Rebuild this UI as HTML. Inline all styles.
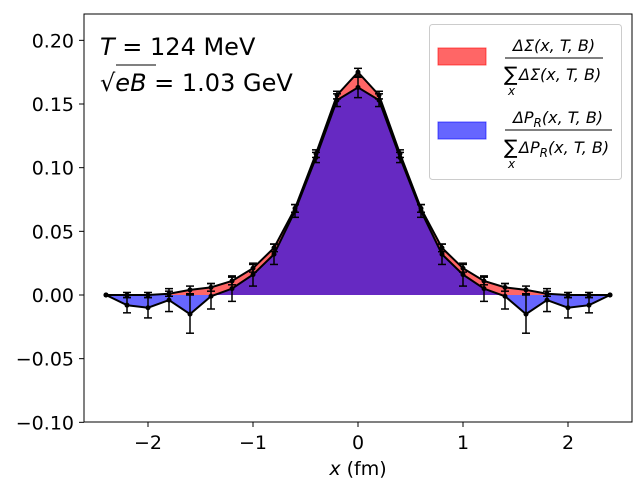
<!DOCTYPE html>
<html><head><meta charset="utf-8"><style>body{margin:0;background:#fff}svg{display:block;font-family:"DejaVu Sans","Liberation Sans",sans-serif}</style></head>
<body>
<svg id="chart" width="640" height="480" xmlns="http://www.w3.org/2000/svg">
<rect x="84" y="14" width="548" height="408" fill="#fff" stroke="#000" stroke-width="1"/>
<g id="fills"></g><g id="lines"></g><g id="ticks"></g>
<text x="358" y="475" font-size="19" text-anchor="middle"><tspan font-style="italic">x</tspan> (fm)</text>
<text x="100" y="55" font-size="24"><tspan font-style="italic">T</tspan> = 124 MeV</text>
<text x="100" y="91" font-size="24">√<tspan font-style="italic">eB</tspan> = 1.03 GeV</text>
<line x1="116" y1="65" x2="156" y2="65" stroke="#000" stroke-width="1"/>
<g>
<rect x="429.5" y="24.5" width="192" height="155" rx="3" fill="#fff" fill-opacity="0.8" stroke="#ccc"/>
<rect x="438" y="48" width="48" height="17" fill="rgba(255,0,0,0.6)" stroke="rgba(255,0,0,0.6)"/>
<text x="554" y="51" font-size="16" text-anchor="middle" font-style="italic">ΔΣ(x, T, B)</text>
<line x1="505" y1="58" x2="603" y2="58" stroke="#000"/>
<text x="504" y="81" font-size="20">∑</text>
<text x="519" y="80" font-size="16" font-style="italic">ΔΣ(x, T, B)</text>
<text x="508" y="95" font-size="12" font-style="italic">x</text>
<rect x="438" y="122" width="48" height="17" fill="rgba(0,0,255,0.6)" stroke="rgba(0,0,255,0.6)"/>
<text x="558" y="123" font-size="16" text-anchor="middle" font-style="italic">ΔP<tspan font-size="12" dy="4">R</tspan><tspan dy="-4">(x, T, B)</tspan></text>
<line x1="505" y1="130" x2="612" y2="130" stroke="#000"/>
<text x="504" y="154" font-size="20">∑</text>
<text x="519" y="153" font-size="16" font-style="italic">ΔP<tspan font-size="12" dy="4">R</tspan><tspan dy="-4">(x, T, B)</tspan></text>
<text x="508" y="168" font-size="12" font-style="italic">x</text>
</g>
</svg>
<script>
const xs=[-2.4,-2.2,-2.0,-1.8,-1.6,-1.4,-1.2,-1.0,-0.8,-0.6,-0.4,-0.2,0,0.2,0.4,0.6,0.8,1.0,1.2,1.4,1.6,1.8,2.0,2.2,2.4];
const sigmaVals=[0,0,0,0.001,0.004,0.006,0.011,0.021,0.037,0.068,0.111,0.157,0.175,0.157,0.111,0.068,0.037,0.021,0.011,0.006,0.004,0.001,0,0,0];
const sigmaErr=[0,0.002,0.002,0.002,0.003,0.003,0.003,0.003,0.003,0.003,0.003,0.003,0.003,0.003,0.003,0.003,0.003,0.003,0.003,0.003,0.003,0.002,0.002,0.002,0];
const prVals=[0,-0.008,-0.010,-0.004,-0.015,-0.001,0.005,0.016,0.032,0.066,0.108,0.153,0.163,0.153,0.108,0.066,0.032,0.016,0.005,-0.001,-0.015,-0.004,-0.010,-0.008,0];
const prErr=[0,0.006,0.008,0.009,0.015,0.01,0.01,0.009,0.008,0.005,0.004,0.005,0.008,0.005,0.004,0.005,0.008,0.009,0.01,0.01,0.015,0.009,0.008,0.006,0];
const xTicks=[-2,-1,0,1,2];
const yTicks=[-0.10,-0.05,0.00,0.05,0.10,0.15,0.20];
const NS="http://www.w3.org/2000/svg";
const X=v=>358+v*105, Y=v=>295-v*1273.3;
function mk(t,a,p){const e=document.createElementNS(NS,t);for(const k in a)e.setAttribute(k,a[k]);p.appendChild(e);return e;}
const fills=document.getElementById('fills'),lines=document.getElementById('lines'),ticks=document.getElementById('ticks');
function series(vals,errs,color,name){
  let d='M'+X(xs[0])+','+Y(0);
  xs.forEach((x,i)=>d+=' L'+X(x)+','+Y(vals[i]));
  d+=' L'+X(xs[xs.length-1])+','+Y(0)+' Z';
  const f=mk('path',{d:d,fill:color,'fill-opacity':0.6},fills);
  
  
  const pl=mk('polyline',{points:xs.map((x,i)=>X(x)+','+Y(vals[i])).join(' '),fill:'none',stroke:'#000','stroke-width':2},lines);
  
  
  xs.forEach((x,i)=>{
    const g=mk('g',{},lines);
    
    
    const cx=X(x),y1=Y(vals[i]-errs[i]),y2=Y(vals[i]+errs[i]);
    if(errs[i]>0){
      mk('line',{x1:cx,x2:cx,y1:y1,y2:y2,stroke:'#000','stroke-width':1.5},g);
      mk('line',{x1:cx-4,x2:cx+4,y1:y1,y2:y1,stroke:'#000','stroke-width':1.5},g);
      mk('line',{x1:cx-4,x2:cx+4,y1:y2,y2:y2,stroke:'#000','stroke-width':1.5},g);
    }
    mk('circle',{cx:cx,cy:Y(vals[i]),r:2.5,fill:'#000'},g);
  });
}
series(sigmaVals,sigmaErr,'#ff0000','sigma');
series(prVals,prErr,'#0000ff','pr');
xTicks.forEach(t=>{
  mk('line',{x1:X(t),x2:X(t),y1:422,y2:427,stroke:'#000'},ticks);
  const tx=mk('text',{x:X(t),y:449,'font-size':19,'text-anchor':'middle'},ticks);
  tx.textContent=(t<0?'−':'')+Math.abs(t);
  
  
});
yTicks.forEach(t=>{
  mk('line',{x1:79,x2:84,y1:Y(t),y2:Y(t),stroke:'#000'},ticks);
  const tx=mk('text',{x:74,y:Y(t)+7,'font-size':19,'text-anchor':'end'},ticks);
  tx.textContent=(t<0?'−':'')+Math.abs(t).toFixed(2);
  
  
});
</script>
</body></html>
